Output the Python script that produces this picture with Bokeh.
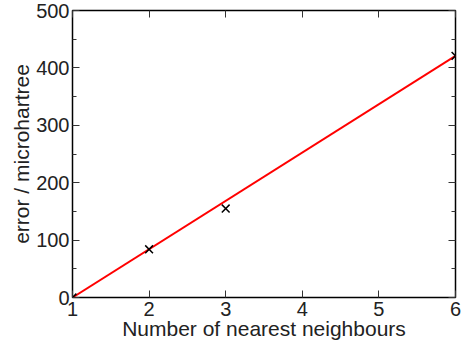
from bokeh.plotting import figure
from bokeh.models import Range1d, LinearAxis, FixedTicker, CustomJSTickFormatter
from bokeh.embed import file_html
from bokeh.resources import INLINE

# data
neighbours = [1, 2, 3, 6]
error_uh = [0, 84, 155, 421]
fit_x = [1, 6]
fit_y = [0, 421]
x_ticks = [1, 2, 3, 4, 5, 6]
y_ticks = [0, 100, 200, 300, 400, 500]
y_minor = [50, 150, 250, 350, 450]

FONT = "Liberation Sans"
TXT = "#222222"

p = figure(width=463, height=344, output_backend="svg", toolbar_location=None,
           x_range=Range1d(1, 6), y_range=Range1d(0, 500),
           min_border_left=72, min_border_right=8, min_border_top=10, min_border_bottom=47,
           x_axis_label="Number of nearest neighbours", y_axis_label="error / microhartree")
p.grid.visible = False
p.outline_line_color = "black"
p.outline_line_width = 1.5
p.background_fill_color = "white"
p.border_fill_color = "white"

def style_axis(ax, labels=True):
    ax.axis_line_color = None
    ax.major_tick_in = 7
    ax.major_tick_out = 0
    ax.minor_tick_in = 4
    ax.minor_tick_out = 0
    ax.major_tick_line_color = "#333333"
    ax.minor_tick_line_color = "#333333"
    ax.major_tick_line_width = 1
    ax.minor_tick_line_width = 1
    ax.major_label_text_font = FONT
    ax.major_label_text_font_size = "20px"
    ax.major_label_text_color = TXT
    ax.axis_label_text_font = FONT
    ax.axis_label_text_font_size = "21px"
    ax.axis_label_text_font_style = "normal"
    ax.axis_label_text_color = TXT
    if not labels:
        ax.formatter = CustomJSTickFormatter(code="return '';")
        ax.major_label_standoff = 0

xa = p.xaxis[0]
ya = p.yaxis[0]
style_axis(xa)
style_axis(ya)
xa.ticker = FixedTicker(ticks=x_ticks)
ya.ticker = FixedTicker(ticks=y_ticks, minor_ticks=y_minor)
xa.major_label_standoff = 4
xa.axis_label_standoff = -2
ya.major_label_standoff = 3
ya.axis_label_standoff = 0

top = LinearAxis(ticker=FixedTicker(ticks=x_ticks))
right = LinearAxis(ticker=FixedTicker(ticks=y_ticks, minor_ticks=y_minor))
style_axis(top, labels=False)
style_axis(right, labels=False)
p.add_layout(top, "above")
p.add_layout(right, "right")

p.line(fit_x, fit_y, line_color="red", line_width=2)
p.scatter(neighbours, error_uh, marker="x", size=11, line_color="black", line_width=1.5)

open("out.html", "w").write(file_html(p, INLINE))
